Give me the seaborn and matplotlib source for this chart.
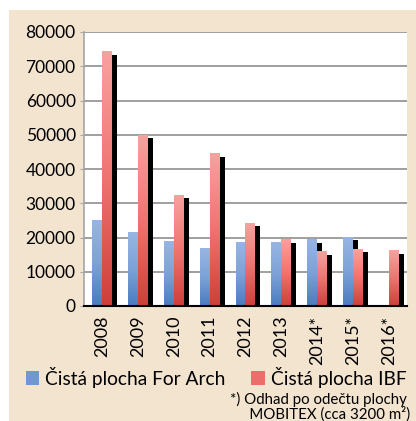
import matplotlib
matplotlib.use("Agg")
import matplotlib.pyplot as plt
import matplotlib.patheffects as pe
from matplotlib.patches import Rectangle, Patch
from matplotlib.colors import LinearSegmentedColormap
import numpy as np
import pandas as pd
import seaborn as sns

# data
roky = ["2008", "2009", "2010", "2011", "2012", "2013", "2014*", "2015*", "2016*"]
for_arch = [25100, 21600, 18700, 16900, 18400, 18400, 19300, 20100, np.nan]
ibf = [74200, 49800, 32400, 44400, 24200, 19300, 15800, 16600, 16100]
serie = ["Čistá plocha For Arch", "Čistá plocha IBF"]
poznamka = "*) Odhad po odečtu plochy\n     MOBITEX (cca 3200 m²)"

df = pd.DataFrame({
    "rok": roky * 2,
    "serie": [serie[0]] * len(roky) + [serie[1]] * len(roky),
    "plocha": for_arch + ibf,
})

plt.rcParams["font.family"] = ["Lato", "DejaVu Sans"]

fig = plt.figure(figsize=(4.16, 4.21), dpi=100)
fig.patch.set_facecolor("white")
fig.patches.append(Rectangle((9 / 416, 0), 1, 1 - 10 / 421, transform=fig.transFigure,
                             facecolor="#F2E4CF", edgecolor="none", zorder=-10))

ax = fig.add_axes([84 / 416, 1 - 306 / 421, 323 / 416, 274 / 421])
ax.set_facecolor("white")

barvy = {serie[0]: "#6F98D2", serie[1]: "#EC6E6A"}
sns.barplot(data=df, x="rok", y="plocha", hue="serie", order=roky, hue_order=serie,
            palette=barvy, width=0.557, errorbar=None, legend=False, ax=ax)

# gradienty + stin jako v Excelu
grad = {
    serie[0]: LinearSegmentedColormap.from_list("b", ["#4A7CC0", "#7DA2D8", "#97B5E2"]),
    serie[1]: LinearSegmentedColormap.from_list("r", ["#CF3F3A", "#EE7470", "#F8A19F"]),
}
stin = [pe.SimplePatchShadow(offset=(3.6, -2.2), shadow_rgbFace="black", alpha=1.0), pe.Normal()]
for cont, s in zip(ax.containers, serie):
    for r in cont:
        h = r.get_height()
        if not np.isfinite(h) or h <= 0:
            continue
        r.set_path_effects(stin)
        r.set_linewidth(0)
        x0 = r.get_x()
        g = np.linspace(0, 1, 64).reshape(-1, 1)
        ax.imshow(g, cmap=grad[s], extent=[x0, x0 + r.get_width(), 0, h],
                  origin="lower", aspect="auto", zorder=1.5, interpolation="bilinear")

ax.set_xlim(-0.5, len(roky) - 0.5)
ax.set_ylim(0, 80000)
ax.set_yticks(range(0, 80001, 10000))
ax.set_xlabel("")
ax.set_ylabel("")
ax.set_axisbelow(True)
ax.grid(axis="y", color="#8F8F8F", linewidth=1.2)
ax.grid(axis="x", visible=False)
for k in ["top", "right"]:
    ax.spines[k].set_visible(False)
ax.spines["left"].set_color("#A6A6A6")
ax.spines["left"].set_linewidth(1.2)
ax.spines["bottom"].set_color("black")
ax.spines["bottom"].set_linewidth(1.5)
ax.spines["bottom"].set_zorder(3)
ax.tick_params(axis="y", length=3, color="#A6A6A6", pad=3, labelsize=12.5)
ax.tick_params(axis="x", length=0, pad=7, labelsize=13, labelrotation=90)

fig.legend(handles=[Patch(facecolor=barvy[s], edgecolor="none") for s in serie],
           labels=serie, loc="center left", bbox_to_anchor=(26 / 416, 1 - 377 / 421),
           ncol=2, frameon=False, fontsize=13.8, handlelength=0.7, handleheight=0.7,
           handletextpad=0.3, columnspacing=1.35, borderaxespad=0, borderpad=0)

fig.text(230 / 416, 1 - 406.5 / 421, poznamka, fontsize=10.8, va="center", ha="left",
         linespacing=0.95)

fig.savefig("out.png", dpi=100, facecolor=fig.get_facecolor())
